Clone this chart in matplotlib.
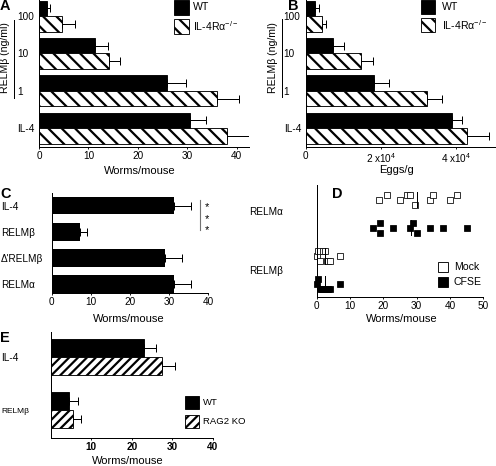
import matplotlib
matplotlib.use('Agg')
import matplotlib.pyplot as plt
from matplotlib.patches import Rectangle
from matplotlib.lines import Line2D
import numpy as np

plt.rcParams['font.family'] = ['Liberation Sans', 'DejaVu Sans']
plt.rcParams['hatch.linewidth'] = 2.0
plt.rcParams['axes.linewidth'] = 0.9
plt.rcParams['mathtext.fontset'] = 'custom'
plt.rcParams['mathtext.rm'] = 'Liberation Sans'

# ---- data ----
# A / B: categories from bottom to top
doses = ['IL-4', '1', '10', '100']
a_wt = [30.6, 26.0, 11.3, 1.7]
a_wt_err = [3.2, 3.7, 2.6, 0.5]
a_ko = [38.0, 36.1, 14.2, 4.7]
a_ko_err = [5.5, 4.4, 2.2, 2.6]

b_wt = [3.89e4, 1.83e4, 0.74e4, 0.25e4]
b_wt_err = [0.27e4, 0.38e4, 0.28e4, 0.11e4]
b_ko = [4.29e4, 3.23e4, 1.47e4, 0.44e4]
b_ko_err = [0.61e4, 0.40e4, 0.32e4, 0.10e4]

# C
c_labels = ['RELMα', "Δ'RELMβ", 'RELMβ', 'IL-4']
c_vals = [31.3, 29.0, 7.2, 31.3]
c_err = [4.3, 4.3, 1.7, 4.3]

# D: individual mice
d_labels = ['RELMβ', 'RELMα']
d_mock_a = [18.8, 21.0, 25.0, 27.0, 28.0, 29.5, 34.0, 35.0, 40.0, 42.0]
d_cfse_a = [17.0, 19.0, 19.0, 23.0, 28.0, 29.0, 30.0, 34.0, 38.0, 45.0]
d_mock_b = [0.0, 0.3, 1.0, 2.0, 2.5, 3.0, 3.5, 4.0, 7.0]
d_cfse_b = [0.0, 0.5, 1.0, 1.5, 2.0, 2.5, 3.0, 3.5, 4.0, 7.0]

# E
e_labels = ['RELMβ', 'IL-4']
e_wt = [4.5, 23.1]
e_wt_err = [2.1, 2.9]
e_ko = [5.5, 27.5]
e_ko_err = [1.9, 3.3]

W, H, DPI = 496, 466, 80
fig = plt.figure(figsize=(W / DPI, H / DPI), dpi=DPI)
PT = DPI / 72.0  # px per point
TICK_FS = 9
LAB_FS = 10
LEG_FS = 9.5
LET_FS = 13


def px_axes(l, t, r, b):
    ax = fig.add_axes([l / W, 1 - b / H, (r - l) / W, (b - t) / H])
    ax.spines['top'].set_visible(False)
    ax.spines['right'].set_visible(False)
    ax.tick_params(axis='x', length=2, width=0.8, pad=1.5, labelsize=TICK_FS)
    return ax


def ftext(x, y, s, **kw):
    return fig.text(x / W, 1 - y / H, s, **kw)


def left_labels(ax, pos, labels, dist_px, fs=TICK_FS):
    ax.set_yticks(pos)
    ax.set_yticklabels(labels, fontsize=fs)
    ax.tick_params(axis='y', length=0, pad=dist_px / PT)
    for lbl in ax.get_yticklabels():
        lbl.set_ha('left')


def legend_px(x, y, w, h, gap, entries, textx, fs=LEG_FS):
    for i, (label, fc, hatch) in enumerate(entries):
        top = y + i * (h + gap)
        fig.patches.append(Rectangle((x / W, 1 - (top + h) / H), w / W, h / H,
                                     transform=fig.transFigure, facecolor=fc,
                                     edgecolor='black', hatch=hatch, lw=0.8))
        ftext(textx, top + h / 2, label, va='center', fontsize=fs)


def hbars(ax, pos, wt, wt_err, ko, ko_err, hgt, hatch):
    pos = np.asarray(pos, float)
    ax.barh(pos + hgt / 2, wt, height=hgt, color='black', edgecolor='black', lw=0.8)
    ax.barh(pos - hgt / 2, ko, height=hgt, color='white', edgecolor='black',
            hatch=hatch, lw=0.8)
    ax.errorbar(wt, pos + hgt / 2, xerr=[np.zeros(len(wt)), wt_err], fmt='none',
                ecolor='black', elinewidth=0.9, capsize=4, capthick=0.9)
    ax.errorbar(ko, pos - hgt / 2, xerr=[np.zeros(len(ko)), ko_err], fmt='none',
                ecolor='black', elinewidth=0.9, capsize=4, capthick=0.9)


KO_LABEL = 'IL-4Rα$^{\\mathrm{-/-}}$'

# ---------------- A ----------------
pos = np.arange(len(doses))
axA = px_axes(39, 0, 249, 147.3)
hbars(axA, pos, a_wt, a_wt_err, a_ko, a_ko_err, 0.415, '\\\\')
axA.set_xlim(0, 42.5)
axA.set_ylim(-0.51, 3.43)
axA.set_xticks([0, 10, 20, 30, 40])
left_labels(axA, pos, doses, 22)
ftext(140, 171, 'Worms/mouse', ha='center', va='center', fontsize=LAB_FS)
ftext(5, 58, 'RELMβ (ng/ml)', rotation=90, ha='center', va='center', fontsize=9.5)
fig.lines.append(Line2D([14 / W, 14 / W], [1 - 20 / H, 1 - 98 / H],
                        transform=fig.transFigure, color='black', lw=0.9))
legend_px(174, 0, 15, 14.5, 4.5, [('WT', 'black', None),
                                  (KO_LABEL, 'white', '\\\\')], 193)
ftext(0, -1, 'A', fontsize=LET_FS, fontweight='bold', ha='left', va='top')

# ---------------- B ----------------
axB = px_axes(305.7, 0, 494.7, 147.3)
hbars(axB, pos, b_wt, b_wt_err, b_ko, b_ko_err, 0.415, '\\\\')
axB.set_xlim(0, 5.04e4)
axB.set_ylim(-0.51, 3.43)
axB.set_xticks([0, 2e4, 4e4])
axB.set_xticklabels(['0', '2 x10$^{4}$', '4 x10$^{4}$'])
left_labels(axB, pos, doses, 22)
ftext(396, 170, 'Eggs/g', ha='center', va='center', fontsize=LAB_FS)
ftext(273, 58, 'RELMβ (ng/ml)', rotation=90, ha='center', va='center', fontsize=9.5)
fig.lines.append(Line2D([281.5 / W, 281.5 / W], [1 - 19 / H, 1 - 97 / H],
                        transform=fig.transFigure, color='black', lw=0.9))
legend_px(421, 0, 14, 14, 4, [('WT', 'black', None),
                              (KO_LABEL, 'white', '\\\\')], 442)
ftext(288, -1, 'B', fontsize=LET_FS, fontweight='bold', ha='left', va='top')

# ---------------- C ----------------
cpos = np.arange(len(c_labels))
axC = px_axes(51.7, 193.3, 208.3, 292.7)
axC.barh(cpos, c_vals, height=0.68, color='black')
axC.errorbar(c_vals, cpos, xerr=[np.zeros(len(c_vals)), c_err], fmt='none',
             ecolor='black', elinewidth=0.9, capsize=4, capthick=0.9)
axC.set_xlim(0, 40)
axC.set_ylim(-0.34, 3.47)
axC.set_xticks([0, 10, 20, 30, 40])
left_labels(axC, cpos, c_labels, 50.7)
axC.plot([38, 38], [3.2, 2.05], color='0.45', lw=1.0, clip_on=False)
for yy in [2.95, 2.5, 2.05]:
    axC.text(39.7, yy, '*', ha='center', va='center', fontsize=10, clip_on=False)
ftext(129, 319, 'Worms/mouse', ha='center', va='center', fontsize=LAB_FS)
ftext(0, 187, 'C', fontsize=LET_FS, fontweight='bold', ha='left', va='top')

# ---------------- D ----------------


def rows(vals, thr):
    out = []
    for i, v in enumerate(vals):
        n = sum(abs(v - w) < thr for w in vals[:i])
        out.append([0, 1, -1, 0.5, -0.5][n % 5])
    return np.array(out)


axD = px_axes(316.5, 185, 483.3, 296.7)
dpos = {'RELMα': 1, 'RELMβ': 0}
groups = [(d_mock_a, 'RELMα', 0.19, 'white'), (d_cfse_a, 'RELMα', -0.28, 'black'),
          (d_mock_b, 'RELMβ', 0.24, 'white'), (d_cfse_b, 'RELMβ', -0.23, 'black')]
for vals, cat, off, fc in groups:
    yc = dpos[cat] + off
    ys = yc + rows(vals, 2.6 if cat == 'RELMα' else 1.2) * 0.085
    axD.plot(vals, ys, 's', ms=6, mfc=fc, mec='black', mew=0.7, ls='none',
             clip_on=False)
    m = np.mean(vals)
    axD.plot([m, m], [yc - 0.13, yc + 0.13], color='black', lw=0.9)
axD.set_xlim(0, 50)
axD.set_ylim(-0.45, 1.44)
axD.set_xticks([0, 10, 20, 30, 40, 50])
left_labels(axD, [dpos[k] for k in d_labels], d_labels, 67.5)
ftext(402, 319, 'Worms/mouse', ha='center', va='center', fontsize=LAB_FS)
legend_px(438, 262, 10, 10, 5, [('Mock', 'white', None), ('CFSE', 'black', None)], 454)
ftext(332, 187, 'D', fontsize=LET_FS, fontweight='bold', ha='left', va='top')

# ---------------- E ----------------
epos = np.arange(len(e_labels))
axE = px_axes(51, 331.7, 213, 438.3)
hbars(axE, epos, e_wt, e_wt_err, e_ko, e_ko_err, 0.34, '///')
axE.set_xlim(0, 40.1)
axE.set_ylim(-0.53, 1.47)
axE.set_xticks([10, 20, 30, 40])
axE.set_xticklabels(['10', '20', '30', '40'], fontweight='bold')
left_labels(axE, epos, e_labels, 50)
axE.get_yticklabels()[0].set_fontsize(7.5)
ftext(128, 465.5, 'Worms/mouse', ha='center', va='bottom', fontsize=LAB_FS)
legend_px(185, 396, 14, 13, 6, [('WT', 'black', None), ('RAG2 KO', 'white', '///')], 203,
          fs=8.5)
ftext(0, 331, 'E', fontsize=LET_FS, fontweight='bold', ha='left', va='top')

plt.savefig('out.png', dpi=DPI)
